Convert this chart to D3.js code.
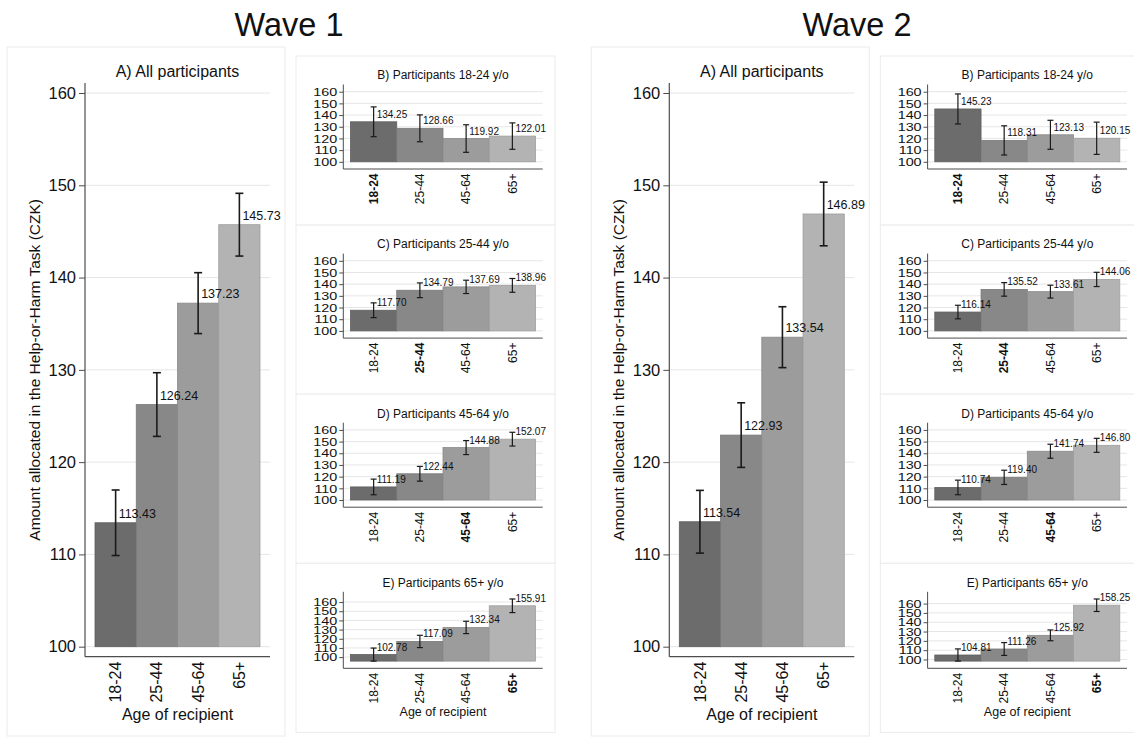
<!DOCTYPE html>
<html><head><meta charset="utf-8">
<script src="https://cdn.jsdelivr.net/npm/d3@7"></script>
<style>
body{margin:0;background:#fff;}
text{font-family:"Liberation Sans",Arial,Helvetica,sans-serif;fill:#111;}
</style>
</head><body><svg id="c" width="1134" height="740"></svg>
<script>
// ---------- data ----------
const categories = ["18-24","25-44","45-64","65+"];
const waveTitles = ["Wave 1","Wave 2"];
const panelTitles = ["A) All participants","B) Participants 18-24 y/o","C) Participants 25-44 y/o","D) Participants 45-64 y/o","E) Participants 65+ y/o"];
const highlighted = [null,"18-24","25-44","45-64","65+"];
const yTicks = [100,110,120,130,140,150,160];
const yTitle = "Amount allocated in the Help-or-Harm Task (CZK)";
const xTitle = "Age of recipient";

const wave1Means = [
  [113.43,126.24,137.23,145.73],
  [134.25,128.66,119.92,122.01],
  [117.70,134.79,137.69,138.96],
  [111.19,122.44,144.88,152.07],
  [102.78,117.09,132.34,155.91]];
const wave1Err = [
  [3.55,3.45,3.3,3.4],
  [12.75,11.5,11.8,11.3],
  [6.3,6.3,5.7,5.9],
  [6.7,6.3,6.0,5.9],
  [7.1,6.7,6.7,7.4]];
const wave2Means = [
  [113.54,122.93,133.54,146.89],
  [145.23,118.31,123.13,120.15],
  [116.14,135.52,133.61,144.06],
  [110.74,119.40,141.74,146.80],
  [104.81,111.26,125.92,158.25]];
const wave2Err = [
  [3.4,3.5,3.3,3.45],
  [12.85,12.5,12.4,13.8],
  [5.8,5.8,5.5,6.1],
  [6.25,6.1,6.0,6.0],
  [6.55,6.9,5.8,6.7]];
const barFills = ["#6c6c6c","#888888","#9c9c9c","#b3b3b3"];

// ---------- drawing ----------
const svg = d3.select("#c");
const waveOffsets = [0, 584.3];
const waveTitleX = [289, 857];
const fmt = d3.format(".2f");
const color = d3.scaleOrdinal().domain(categories).range(barFills);

function drawPanel(cfg, means, errs, title, hl) {
  const g = svg.append("g");
  const o = cfg.outer, m = cfg.m, f = cfg.font;
  g.append("rect").attr("x",cfg.box.x0).attr("y",cfg.box.y0)
    .attr("width",cfg.box.x1-cfg.box.x0).attr("height",cfg.box.y1-cfg.box.y0)
    .attr("fill","#fff").attr("stroke","#ebebeb").attr("stroke-width",1);
  const rows = categories.map((c,i)=>({c, v:means[i], e:errs[i]}));
  const lo = Math.min(100, d3.min(rows, d=>d.v-d.e));
  const hi = Math.max(160, d3.max(rows, d=>d.v+d.e));
  const y = d3.scaleLinear().domain([lo,hi]).range([o.b-m, o.t+m]);
  const x = d3.scaleBand().domain(categories).range([o.l+m, o.r-m]).padding(0);

  g.append("g").selectAll("line").data(yTicks).join("line")
    .attr("x1",o.l).attr("x2",o.r).attr("y1",d=>y(d)).attr("y2",d=>y(d))
    .attr("stroke","#e6e6e6").attr("stroke-width",1);

  g.append("g").selectAll("rect").data(rows).join("rect")
    .attr("x",d=>x(d.c)).attr("width",x.bandwidth())
    .attr("y",d=>y(d.v)).attr("height",d=>y(lo)-y(d.v))
    .attr("fill",d=>color(d.c))
    .attr("stroke",d=>d3.color(color(d.c)).darker(0.35)).attr("stroke-width",0.8);

  const eb = g.append("g").attr("stroke","#1a1a1a").attr("stroke-width",cfg.ebw);
  rows.forEach(d=>{
    const cx = x(d.c)+x.bandwidth()/2;
    eb.append("line").attr("x1",cx).attr("x2",cx).attr("y1",y(d.v-d.e)).attr("y2",y(d.v+d.e));
    [d.v-d.e, d.v+d.e].forEach(vv=>{
      eb.append("line").attr("x1",cx-cfg.cap/2).attr("x2",cx+cfg.cap/2).attr("y1",y(vv)).attr("y2",y(vv));
    });
  });

  g.append("g").selectAll("text").data(rows).join("text")
    .attr("x",d=>x(d.c)+x.bandwidth()/2+3).attr("y",d=>y(d.v)-cfg.labOff)
    .attr("font-size",f.value).text(d=>fmt(d.v));

  // y axis
  const ya = g.append("g").attr("transform",`translate(${o.l},0)`)
    .call(d3.axisLeft(y).tickValues(yTicks).tickSize(cfg.tick).tickPadding(cfg.tickPad).tickFormat(d3.format("d")));
  ya.select(".domain").remove();
  ya.selectAll("line").attr("stroke","#4d4d4d");
  const sx = cfg.ytickStretch;
  ya.selectAll("text").attr("font-size",f.ytick).attr("fill","#111").attr("font-family",null)
    .attr("x",-(cfg.tick+cfg.tickPad)/sx)
    .attr("transform",`scale(${sx},1)`);
  g.append("line").attr("x1",o.l).attr("x2",o.l).attr("y1",o.t).attr("y2",o.b)
    .attr("stroke","#4d4d4d").attr("stroke-width",cfg.axw);

  // x axis
  const xa = g.append("g").attr("transform",`translate(0,${o.b})`)
    .call(d3.axisBottom(x).tickSize(0));
  xa.select(".domain").remove();
  xa.selectAll("text")
    .attr("transform","rotate(-90)").attr("text-anchor","end")
    .attr("x",-cfg.xlabPad).attr("y",0).attr("dy","0.35em")
    .attr("font-size",f.xtick).attr("fill","#111").attr("font-family",null)
    .attr("font-weight",d=>d===hl?"bold":"normal");
  g.append("line").attr("x1",o.l).attr("x2",o.r).attr("y1",o.b).attr("y2",o.b)
    .attr("stroke","#4d4d4d").attr("stroke-width",cfg.axw);

  g.append("text").attr("x",(o.l+o.r)/2).attr("y",cfg.titleY)
    .attr("text-anchor","middle").attr("font-size",f.title).text(title);

  if (cfg.xTitleY) {
    g.append("text").attr("x",(o.l+o.r)/2).attr("y",cfg.xTitleY)
      .attr("text-anchor","middle").attr("font-size",f.xtitle).text(xTitle);
  }
  if (cfg.yTitleX) {
    g.append("text").attr("transform",`translate(${cfg.yTitleX},${(o.t+o.b)/2}) rotate(-90)`)
      .attr("text-anchor","middle").attr("font-size",f.ytitle).text(yTitle);
  }
}

const bigFont = {title:16, ytick:16.5, xtick:16, value:12.5, xtitle:16, ytitle:15.5};
const smallFont = {title:12, ytick:11.5, xtick:12, value:10, xtitle:12.5};

[ [wave1Means, wave1Err], [wave2Means, wave2Err] ].forEach(([means, errs], w)=>{
  const dx = waveOffsets[w];
  svg.append("text").attr("x",waveTitleX[w]).attr("y",36).attr("text-anchor","middle")
    .attr("font-size",32.5).text(waveTitles[w]);
  drawPanel({
    box:{x0:7+dx, y0:47, x1:285+dx, y1:736},
    outer:{l:85+dx, r:270+dx, t:83, b:656.7}, m:10,
    font:bigFont, tick:6, tickPad:3, ytickStretch:1, xlabPad:5, cap:8, ebw:1.6, axw:1.2, labOff:5,
    titleY:77, xTitleY:720, yTitleX:40+dx
  }, means[0], errs[0], panelTitles[0], highlighted[0]);
  for (let i=1;i<5;i++){
    const top = 56 + (i-1)*169.1;
    drawPanel({
      box:{x0:296+dx, y0:top, x1:555+dx, y1:top+169.1},
      outer:{l:343.3+dx, r:542.7+dx, t:top+28.5, b: i===4 ? top+105 : top+113}, m:7.2,
      font:smallFont, tick:4, tickPad:2, ytickStretch:1.25, xlabPad:4.5, cap:6, ebw:1.2, axw:1, labOff:4,
      titleY:top+23.3, xTitleY: i===4 ? top+153 : null, yTitleX:null
    }, means[i], errs[i], panelTitles[i], highlighted[i]);
  }
});
</script>
</body></html>
